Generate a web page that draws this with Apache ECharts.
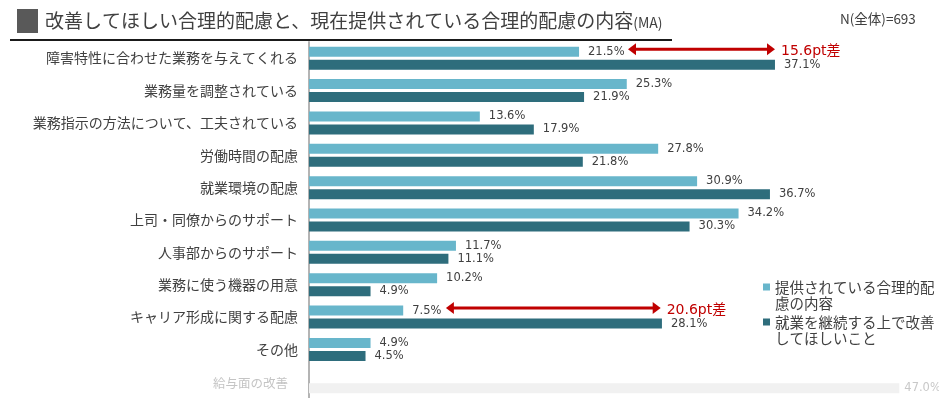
<!DOCTYPE html>
<html>
<head>
<meta charset="utf-8">
<script src="https://cdn.jsdelivr.net/npm/echarts@6/dist/echarts.min.js"></script>
<style>
  html, body { margin: 0; padding: 0; background: #fff; }
  #chart { width: 939px; height: 398px; }
</style>
</head>
<body>
<div id="chart"></div>
<script>
// 項目
const categories = [
  '障害特性に合わせた業務を与えてくれる',
  '業務量を調整されている',
  '業務指示の方法について、工夫されている',
  '労働時間の配慮',
  '就業環境の配慮',
  '上司・同僚からのサポート',
  '人事部からのサポート',
  '業務に使う機器の用意',
  'キャリア形成に関する配慮',
  'その他',
  '給与面の改善'
];
const seriesNames = ['提供されている合理的配\n慮の内容', '就業を継続する上で改善\nしてほしいこと'];
const provided = [21.5, 25.3, 13.6, 27.8, 30.9, 34.2, 11.7, 10.2, 7.5, 4.9, null];
const wanted = [37.1, 21.9, 17.9, 21.8, 36.7, 30.3, 11.1, 4.9, 28.1, 4.5, 47.0];
const fadedCategory = '給与面の改善';

// 差の矢印
const arrowRows = ['障害特性に合わせた業務を与えてくれる', 'キャリア形成に関する配慮'];
const arrowFrom = [25.4, 10.9];
const arrowTo = [37.1, 28.0];
const arrowLabels = ['15.6pt差', '20.6pt差'];

const LIGHT = '#68b6cb';
const DARK = '#2e6d7c';
const TEXT = '#404040';
const RED = '#c00000';

const chart = echarts.init(document.getElementById('chart'));

const valueLabel = {
  show: true,
  position: 'right',
  distance: 9,
  fontFamily: 'DejaVu Sans',
  fontSize: 11.5,
  color: TEXT,
  formatter: p => p.value.toFixed(1) + '%'
};

const wantedData = wanted.map((v, i) => {
  if (categories[i] === fadedCategory) {
    return {
      value: v,
      itemStyle: { color: '#f1f1f1' },
      label: { color: '#c8c8c8', distance: 5 }
    };
  }
  return v;
});

const arrowData = arrowRows.map((r, i) => [arrowFrom[i], arrowTo[i], r, arrowLabels[i]]);

const option = {
  animation: false,
  grid: { left: 309, top: 42, width: 628, height: 357 },
  xAxis: {
    type: 'value', min: 0, max: 50,
    show: false, splitLine: { show: false }
  },
  yAxis: {
    type: 'category',
    data: categories,
    inverse: true,
    axisTick: { show: false },
    axisLine: { show: true, lineStyle: { color: '#b4b4b4', width: 2 } },
    axisLabel: {
      margin: 11,
      fontFamily: 'Noto Sans CJK JP',
      fontSize: 14,
      color: TEXT,
      formatter: v => v === fadedCategory ? '{f|' + v + '}' : v,
      rich: {
        f: { fontSize: 12.5, color: '#c4c4c4', fontFamily: 'Noto Sans CJK JP', padding: [2, 10, 0, 0] }
      }
    }
  },
  legend: {
    data: seriesNames,
    orient: 'vertical',
    left: 763,
    top: 279,
    padding: 0,
    // 四角を1行目の高さに置くための透明な点を含むパス
    icon: 'path://M0,0H7V7H0Z M0,23H0.01V23.01H0Z',
    itemWidth: 7,
    itemHeight: 23,
    itemGap: 3,
    selectedMode: false,
    textStyle: {
      fontFamily: 'Noto Sans CJK JP',
      fontSize: 14.5,
      lineHeight: 16,
      color: TEXT
    }
  },
  series: [
    {
      name: seriesNames[0],
      type: 'bar',
      data: provided,
      barWidth: 10,
      barGap: '30%',
      itemStyle: { color: LIGHT },
      label: valueLabel
    },
    {
      name: seriesNames[1],
      type: 'bar',
      data: wantedData,
      barWidth: 10,
      itemStyle: { color: DARK },
      label: valueLabel
    },
    {
      type: 'custom',
      data: arrowData,
      encode: { x: [0, 1], y: 2 },
      clip: false,
      z: 10,
      renderItem: (params, api) => {
        const a = api.coord([api.value(0), api.value(2)]);
        const b = api.coord([api.value(1), api.value(2)]);
        const y = a[1] - 9;
        const x1 = a[0], x2 = b[0];
        const hl = 8, hh = 6;
        return {
          type: 'group',
          children: [
            { type: 'line', shape: { x1: x1 + hl - 1, y1: y, x2: x2 - hl + 1, y2: y },
              style: { stroke: RED, lineWidth: 3 } },
            { type: 'polygon', shape: { points: [[x1, y], [x1 + hl, y - hh], [x1 + hl, y + hh]] },
              style: { fill: RED } },
            { type: 'polygon', shape: { points: [[x2, y], [x2 - hl, y - hh], [x2 - hl, y + hh]] },
              style: { fill: RED } },
            { type: 'text', x: x2 + 6, y: y + 2,
              style: { text: api.value(3), fill: RED, font: '14px "DejaVu Sans", "Noto Sans CJK JP"',
                verticalAlign: 'middle', align: 'left' } }
          ]
        };
      }
    }
  ],
  graphic: [
    { type: 'rect', shape: { x: 17, y: 9, width: 21, height: 24 }, style: { fill: '#595959' } },
    { type: 'text', x: 45, y: 21,
      style: {
        text: '{a|改善してほしい合理的配慮と、現在提供されている合理的配慮の内容}{b|(MA)}',
        verticalAlign: 'middle',
        rich: {
          a: { fontFamily: 'Noto Sans CJK JP', fontSize: 19, fill: TEXT },
          b: { fontFamily: 'Noto Sans CJK JP', fontSize: 14, fill: TEXT, padding: [3, 0, 0, 0] }
        }
      } },
    { type: 'line', shape: { x1: 10, y1: 40, x2: 672, y2: 40 }, style: { stroke: '#1a1a1a', lineWidth: 2 } },
    { type: 'text', x: 840, y: 19,
      style: { text: 'N(全体)=693', fill: TEXT, verticalAlign: 'middle',
        font: '13.5px "Noto Sans CJK JP"' } }
  ]
};

chart.setOption(option);
</script>
</body>
</html>
